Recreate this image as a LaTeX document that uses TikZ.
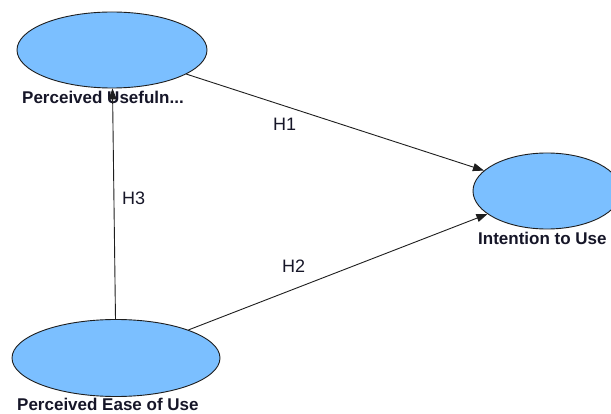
\documentclass[tikz,border=0pt]{standalone}
\usepackage{fontspec}
\setmainfont{Liberation Sans}
\usetikzlibrary{shapes.geometric,arrows.meta}
\definecolor{fillblue}{RGB}{123,191,255}
\definecolor{edgec}{RGB}{30,30,30}
\definecolor{textc}{RGB}{22,22,40}
\tikzset{
  construct/.style={ellipse, draw=edgec, fill=fillblue, line width=0.9pt, inner sep=0pt},
  clabel/.style={anchor=base west, inner sep=0pt, text=textc, font=\fontsize{17}{18}\selectfont\bfseries},
  hlabel/.style={anchor=base west, inner sep=0pt, text=textc, font=\fontsize{18}{20}\selectfont},
  path/.style={draw=edgec, line width=0.9pt, -{Triangle[length=11pt,width=8pt]}}
}
\begin{document}
\begin{tikzpicture}[x=1pt,y=-1pt]
\useasboundingbox (0,0) rectangle (611,414);
\clip (0,0) rectangle (611,414);
\fill[white] (0,0) rectangle (611,414);
\node[construct, minimum width=190pt, minimum height=76pt] (pu) at (112,50) {};
\node[construct, minimum width=208pt, minimum height=77pt] (peou) at (116,358) {};
\node[construct, minimum width=148pt, minimum height=76pt] (itu) at (547,191) {};
\node[clabel] (pul) at (22,104) {Perceived Usefuln...};
\node[clabel] (peoul) at (17,410.5) {Perceived Ease of Use};
\node[clabel] (itul) at (478,245) {Intention to Use};
\draw[path] (pu) -- (itu);
\draw[path] (peou) -- (itu);
\draw[path] (peou) -- (pu);
\node[hlabel] (h1) at (273,131) {H1};
\node[hlabel] (h2) at (282,273) {H2};
\node[hlabel] (h3) at (122,205) {H3};
\end{tikzpicture}
\end{document}
